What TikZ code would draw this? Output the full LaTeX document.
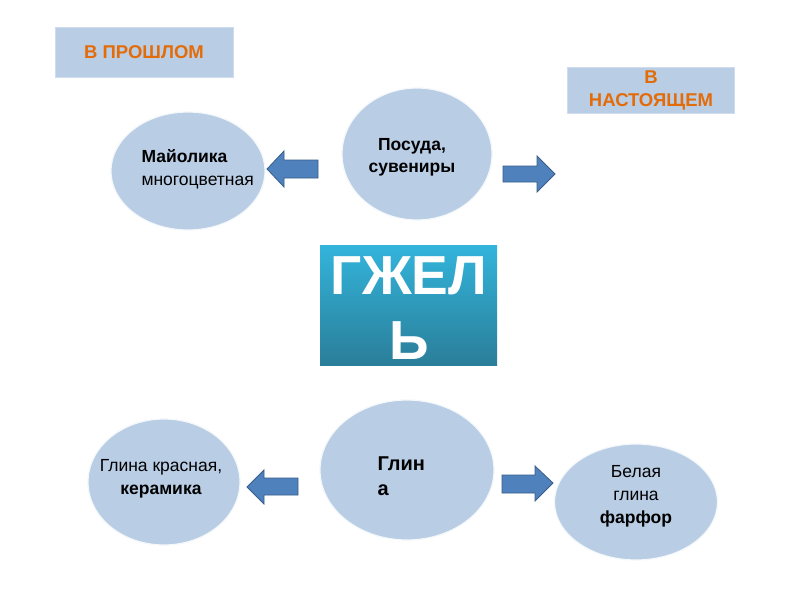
\documentclass[tikz,border=0pt]{standalone}
\usepackage{fontspec}
\setmainfont{Liberation Sans}
\usetikzlibrary{shapes.geometric}
\definecolor{lblue}{HTML}{B9CDE5}
\definecolor{orng}{HTML}{E36C09}
\definecolor{arrfill}{HTML}{4F81BD}
\definecolor{arrline}{HTML}{385D8A}
\definecolor{gtop}{HTML}{33B4DB}
\definecolor{gbot}{HTML}{2A7E99}
\tikzset{
  lbl/.style={fill=lblue, draw=lblue!70!white, line width=1pt, inner sep=0pt, font=\bfseries\fontsize{18.5}{23}\selectfont, text=orng, align=center},
  bubble/.style={ellipse, fill=lblue, draw=white!85!lblue, line width=1.2pt, inner sep=0pt},
  blockarrow/.style={fill=arrfill, draw=arrline, line width=0.8pt, line join=miter},
  btxt/.style={font=\fontsize{17.5}{23}\selectfont},
}
\begin{document}
\begin{tikzpicture}[x=1pt,y=-1pt]
\useasboundingbox (0,0) rectangle (800,600);
\fill[white] (0,0) rectangle (800,600);
% labels
\node[lbl, minimum width=178pt, minimum height=50pt] (past) at (144,52) {В ПРОШЛОМ};
\node[lbl, minimum width=167pt, minimum height=46pt] (now) at (651,90) {В\\НАСТОЯЩЕМ};
% top bubbles
\node[bubble, minimum width=154pt, minimum height=118pt] (maj) at (188,171) {};
\node[btxt, align=left, anchor=west] (majt) at (138,169) {\textbf{Майолика}\\многоцветная};
\node[bubble, minimum width=150pt, minimum height=132pt] (pos) at (417,154) {};
\node[font=\bfseries\fontsize{17.5}{22}\selectfont, align=center] (post) at (412,157) {Посуда,\\сувениры};
% arrows (tip, head base, tail)
\coordinate (a1) at (267,169);
\draw[blockarrow] (a1) -- ++(17,-18) -- ++(0,9) -- ++(34,0) -- ++(0,18) -- ++(-34,0) -- ++(0,9) -- cycle;
\coordinate (a2) at (555,174);
\draw[blockarrow] (a2) -- ++(-18,-18) -- ++(0,10) -- ++(-34,0) -- ++(0,16) -- ++(34,0) -- ++(0,10) -- cycle;
% center box
\shade[top color=gtop, bottom color=gbot] (320,245) rectangle (497,365);
\node[font=\bfseries\fontsize{55}{65}\selectfont, text=white, align=center] (gz) at (409,308) {ГЖЕЛ\\Ь};
% bottom bubbles
\node[bubble, minimum width=152pt, minimum height=126pt] (krs) at (164,482) {};
\node[btxt, align=center] (krst) at (161,479) {Глина красная,\\\textbf{керамика}};
\node[bubble, minimum width=174pt, minimum height=140pt] (gl) at (407,470) {};
\node[font=\bfseries\fontsize{20}{25}\selectfont, align=left, anchor=west] (glt) at (374,476) {Глин\\а};
\node[bubble, minimum width=163pt, minimum height=116pt] (bel) at (636,502) {};
\node[btxt, align=center] (belt) at (636,496) {Белая\\глина\\\textbf{фарфор}};
\coordinate (a3) at (247,487);
\draw[blockarrow] (a3) -- ++(17,-17) -- ++(0,8) -- ++(34,0) -- ++(0,17) -- ++(-34,0) -- ++(0,9) -- cycle;
\coordinate (a4) at (553,483);
\draw[blockarrow] (a4) -- ++(-18,-17) -- ++(0,9) -- ++(-33,0) -- ++(0,18) -- ++(33,0) -- ++(0,8) -- cycle;
\end{tikzpicture}
\end{document}
